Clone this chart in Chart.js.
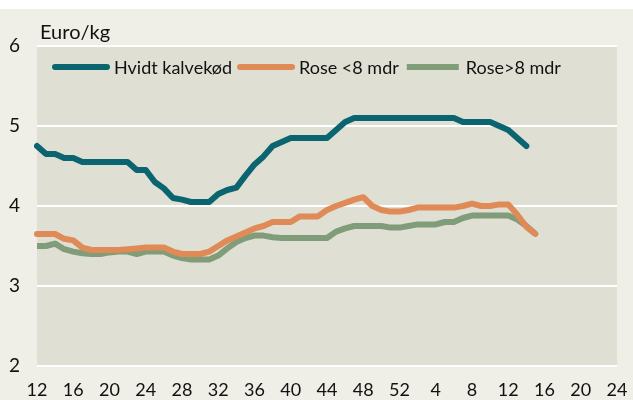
<!DOCTYPE html>
<html>
<head>
<meta charset="utf-8">
<script src="https://cdn.jsdelivr.net/npm/chart.js@4/dist/chart.umd.min.js"></script>
<style>
  html, body { margin: 0; padding: 0; background: #ffffff; overflow: hidden; }
  #wrap { position: absolute; left: 0; top: 0; width: 633px; height: 412px; }
</style>
</head>
<body>
<div id="wrap"><canvas id="calvePrices" width="633" height="412"></canvas></div>
<script>
// weeks, from week 12 to week 24 the year after
const weeks = [12, 13, 14, 15, 16, 17, 18, 19, 20, 21, 22, 23, 24, 25, 26, 27, 28, 29, 30, 31,
    32, 33, 34, 35, 36, 37, 38, 39, 40, 41, 42, 43, 44, 45, 46, 47, 48, 49, 50, 51, 52,
    1, 2, 3, 4, 5, 6, 7, 8, 9, 10, 11, 12, 13, 14, 15, 16, 17, 18, 19, 20, 21, 22, 23, 24];

const hvidtKalvekod = [4.75, 4.65, 4.65, 4.60, 4.60, 4.55, 4.55, 4.55, 4.55, 4.55,
    4.55, 4.45, 4.45, 4.30, 4.22, 4.10, 4.08, 4.05, 4.05, 4.05,
    4.15, 4.20, 4.23, 4.38, 4.52, 4.62, 4.75, 4.80, 4.85, 4.85,
    4.85, 4.85, 4.85, 4.95, 5.05, 5.10, 5.10, 5.10, 5.10, 5.10,
    5.10, 5.10, 5.10, 5.10, 5.10, 5.10, 5.10, 5.05, 5.05, 5.05,
    5.05, 5.00, 4.95, 4.85, 4.75];

const roseUnder8 = [3.65, 3.65, 3.65, 3.59, 3.57, 3.48, 3.45, 3.45, 3.45, 3.45,
    3.46, 3.47, 3.48, 3.48, 3.48, 3.43, 3.40, 3.40, 3.40, 3.43,
    3.50, 3.57, 3.62, 3.67, 3.72, 3.75, 3.80, 3.80, 3.80, 3.87,
    3.87, 3.87, 3.95, 4.00, 4.04, 4.08, 4.11, 4.00, 3.95, 3.93,
    3.93, 3.95, 3.98, 3.98, 3.98, 3.98, 3.98, 4.00, 4.03, 4.00,
    4.00, 4.02, 4.02, 3.89, 3.74, 3.65];

const roseOver8 = [3.50, 3.50, 3.53, 3.46, 3.43, 3.41, 3.40, 3.40, 3.42, 3.43,
    3.43, 3.40, 3.43, 3.43, 3.43, 3.38, 3.35, 3.33, 3.33, 3.33,
    3.38, 3.47, 3.55, 3.60, 3.63, 3.63, 3.61, 3.60, 3.60, 3.60,
    3.60, 3.60, 3.60, 3.68, 3.72, 3.75, 3.75, 3.75, 3.75, 3.73,
    3.73, 3.75, 3.77, 3.77, 3.77, 3.80, 3.80, 3.85, 3.88, 3.88,
    3.88, 3.88, 3.88, 3.83, 3.75, 3.65];

const seriesNames = ['Hvidt kalvekød', 'Rose <8 mdr', 'Rose>8 mdr'];
const seriesColors = ['#0b6570', '#e08a57', '#809c78'];
const unitLabel = 'Euro/kg';

const FONT = 'Lato, "Open Sans", sans-serif';

// backgrounds: beige page, grey plot area
const backgrounds = {
    id: 'backgrounds',
    beforeDraw(chart) {
        const ctx = chart.ctx;
        const a = chart.chartArea;
        ctx.save();
        ctx.fillStyle = '#efeee7';
        ctx.fillRect(0, 9, chart.width, chart.height - 9);
        ctx.fillStyle = '#dfdfd4';
        ctx.fillRect(a.left, a.top, a.right - a.left, a.bottom - a.top);
        ctx.restore();
    }
};

// unit text above the plot and the legend row inside it
const labelsInside = {
    id: 'labelsInside',
    afterDraw(chart) {
        const ctx = chart.ctx;
        const a = chart.chartArea;
        ctx.save();
        ctx.fillStyle = '#111';
        ctx.font = '20px ' + FONT;
        ctx.textBaseline = 'alphabetic';
        ctx.textAlign = 'left';
        ctx.fillText(unitLabel, a.left + 3, a.top - 7);

        ctx.font = '18px ' + FONT;
        let x = a.left + 15;
        const y = a.top + 21;
        chart.data.datasets.forEach(ds => {
            ctx.strokeStyle = ds.borderColor;
            ctx.lineWidth = 6;
            ctx.lineCap = ds.borderCapStyle;
            ctx.beginPath();
            ctx.moveTo(x + 3, y);
            ctx.lineTo(x + 55, y);
            ctx.stroke();
            x += 62;
            ctx.textBaseline = 'middle';
            ctx.fillText(ds.label, x, y + 1);
            x += ctx.measureText(ds.label).width + 5;
        });
        ctx.restore();
    }
};

const ctx = document.getElementById('calvePrices');
new Chart(ctx, {
    type: 'line',
    data: {
        labels: weeks,
        datasets: [{
            label: seriesNames[0],
            data: hvidtKalvekod,
            borderColor: seriesColors[0],
            borderCapStyle: 'round'
        }, {
            label: seriesNames[1],
            data: roseUnder8,
            borderColor: seriesColors[1],
            borderCapStyle: 'round'
        }, {
            label: seriesNames[2],
            data: roseOver8,
            borderColor: seriesColors[2],
            borderCapStyle: 'butt'
        }]
    },
    options: {
        responsive: false,
        animation: false,
        layout: {
            padding: { left: 9, right: 16, top: 46, bottom: 8 }
        },
        elements: {
            line: { borderWidth: 6, tension: 0, borderJoinStyle: 'round' },
            point: { radius: 0 }
        },
        plugins: {
            legend: { display: false },
            tooltip: { enabled: false }
        },
        scales: {
            x: {
                offset: false,
                grid: { display: false },
                border: { display: false },
                afterFit(scale) {
                    scale.height = 38;
                    scale.paddingLeft = 0;
                    scale.paddingRight = 0;
                },
                ticks: {
                    autoSkip: false,
                    maxRotation: 0,
                    padding: 5,
                    color: '#111',
                    font: { family: FONT, size: 18 },
                    callback: function(val, idx) {
                        return idx % 4 === 0 ? this.getLabelForValue(val) : null;
                    }
                }
            },
            y: {
                min: 2,
                max: 6,
                grid: { color: '#ffffff', lineWidth: 2, drawTicks: false },
                border: { display: false },
                afterFit(scale) {
                    scale.width = 28;
                    scale.paddingTop = 0;
                    scale.paddingBottom = 0;
                },
                ticks: {
                    stepSize: 1,
                    padding: 17,
                    color: '#111',
                    font: { family: FONT, size: 19 }
                }
            }
        }
    },
    plugins: [backgrounds, labelsInside]
});
</script>
</body>
</html>
